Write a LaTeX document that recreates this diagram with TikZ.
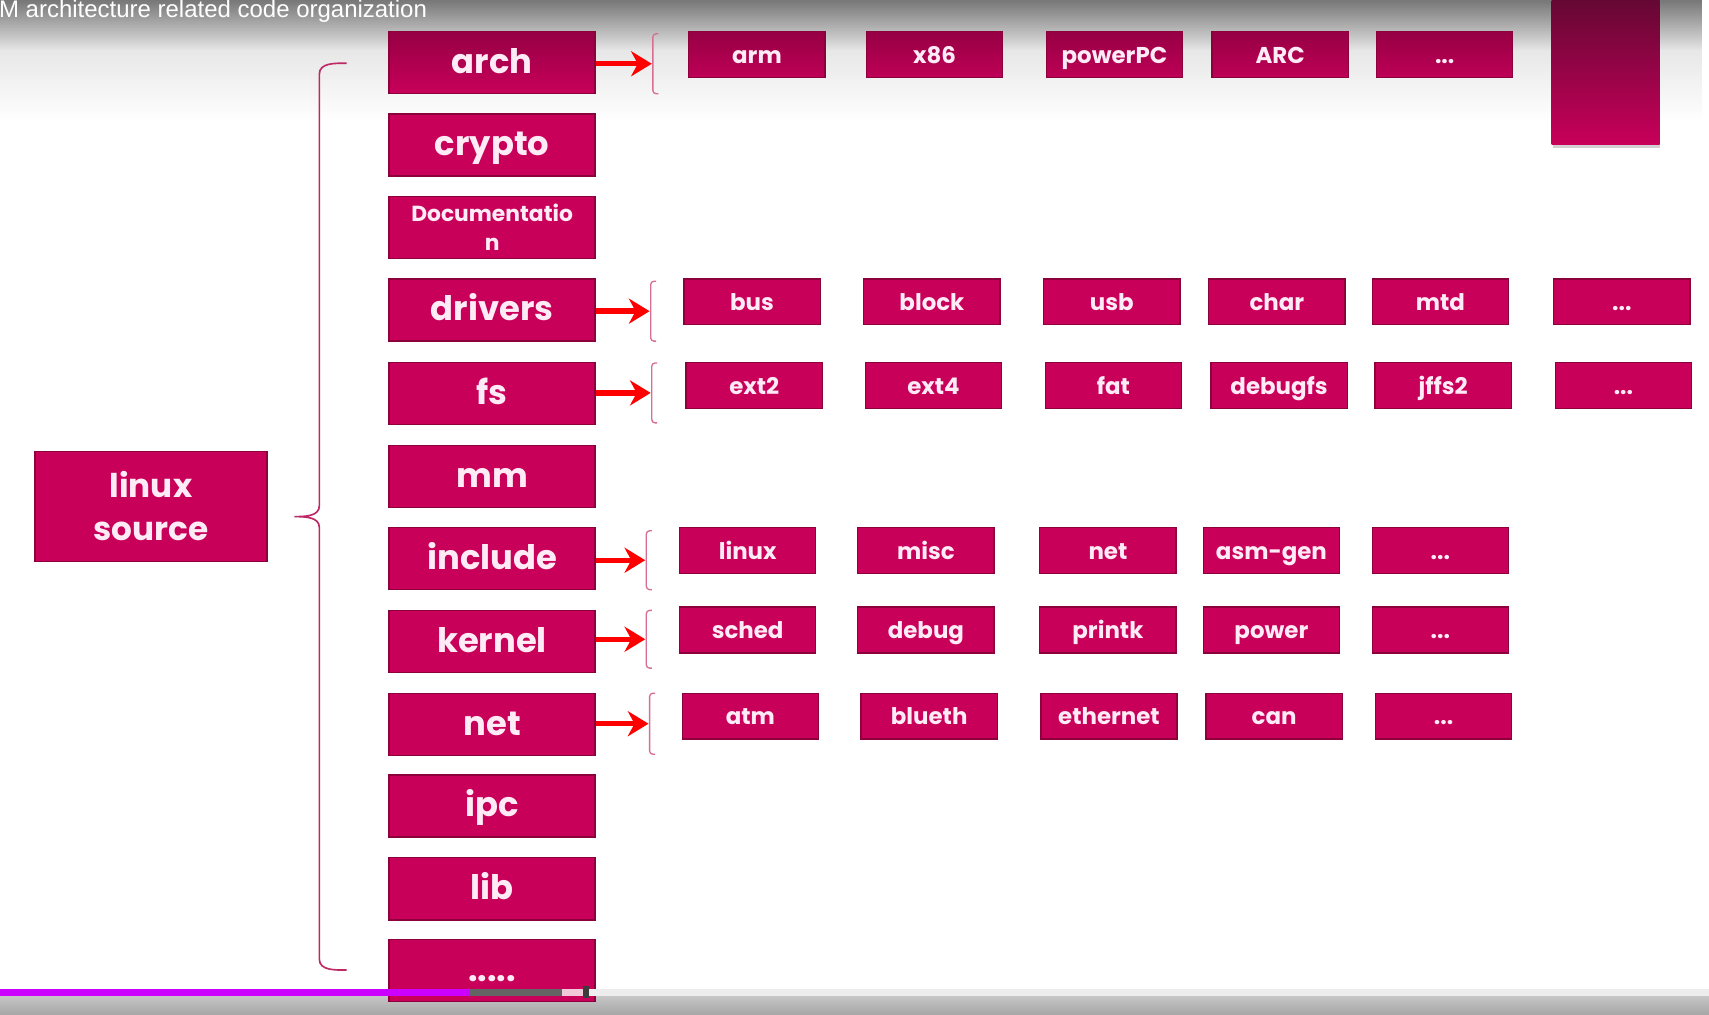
\documentclass[tikz,border=0pt]{standalone}
\usepackage{fontspec}
\setmainfont{Liberation Sans}
\newfontfamily\pop{Poppins}
\usetikzlibrary{arrows.meta,fadings}
\newcommand\mydots{...}
\definecolor{crim}{RGB}{200,0,90}
\definecolor{crimtop}{RGB}{150,0,68}
\definecolor{crimsubbot}{RGB}{190,0,86}
\definecolor{crimdeep}{RGB}{92,8,48}
\definecolor{crimmid}{RGB}{186,0,84}
\definecolor{crimdark}{RGB}{140,0,60}
\definecolor{crimline}{RGB}{190,40,100}
\definecolor{brk}{RGB}{215,110,150}
\definecolor{txt}{RGB}{255,235,245}
\definecolor{barpurple}{RGB}{204,0,255}
\definecolor{bargray}{RGB}{100,100,100}
\definecolor{barpink}{RGB}{240,200,215}
\definecolor{barlight}{RGB}{237,237,237}
\definecolor{barhandle}{RGB}{60,60,60}
\tikzset{
  box/.style={fill=crim, draw=crimdark, line width=1.2pt, inner sep=0pt, text=txt},
  mainbox/.style={box, minimum width=189pt, minimum height=57pt,
    font=\pop\bfseries\fontsize{31}{36}\selectfont, text height=22pt, text depth=2pt},
  docbox/.style={box, minimum width=189pt, minimum height=57pt, align=center,
    font=\pop\bfseries\fontsize{20}{27}\selectfont},
  srcbox/.style={box, minimum width=213pt, minimum height=101pt, align=center,
    font=\pop\bfseries\fontsize{30}{39}\selectfont},
  subbox/.style={box, minimum width=125pt, minimum height=42pt,
    font=\pop\bfseries\fontsize{21}{25}\selectfont, text height=16pt, text depth=0pt},
  toprow/.style={top color=crimtop, bottom color=crimsubbot},
  redarrow/.style={draw=red, line width=5pt, -{Stealth[length=19pt,width=23pt]}},
  smallbracket/.style={draw=brk, line width=1.2pt, rounded corners=3pt},
  bigbrace/.style={draw=crimline, line width=1.5pt},
}
\begin{document}
\begin{tikzpicture}[x=1pt,y=-1pt]
\useasboundingbox (0,0) rectangle (1568,931);
\fill[white] (0,0) rectangle (1568,931);
% top gray video band (background)
\fill[black, fill opacity=0.45, path fading=south] (0,-1) rectangle (1568,46);
\fill[black, fill opacity=0.16, path fading=south] (0,-1) rectangle (1568,112);
% bottom video band
\shade[top color=gray!45, bottom color=gray!70] (0,914) rectangle (1568,931);

% top-right tall box
\fill[black!18] (1425,131) rectangle (1523,136);
\node[box, draw=none, top color=crimdeep, middle color=crimmid, bottom color=crim,
  minimum width=99pt, minimum height=145pt, anchor=south west] (tr) at (1423,133) {};

\node[anchor=base west, inner sep=0pt, text=white, font=\fontsize{22}{26}\selectfont] (title) at (-1,16)
  {M architecture related code organization};

% linux source
\node[srcbox] (src) at (138.5,464.5) {linux\\source};

% main column
\node[mainbox, top color=crimtop, bottom color=crim] (arch) at (451.5,57.5) {arch};
\node[mainbox] (crypto) at (451.5,133) {crypto};
\node[docbox] (doc) at (451.5,208.5) {Documentatio\\n};
\node[mainbox] (drivers) at (451.5,284.5) {drivers};
\node[mainbox] (fs) at (451.5,361) {fs};
\node[mainbox] (mm) at (451.5,437) {mm};
\node[mainbox] (include) at (451.5,512.5) {include};
\node[mainbox] (kernel) at (451.5,588.5) {kernel};
\node[mainbox] (net) at (451.5,664.5) {net};
\node[mainbox] (ipc) at (451.5,739.5) {ipc};
\node[mainbox] (lib) at (451.5,815.5) {lib};
\node[mainbox] (more) at (451.5,890.5) {.....};

% big brace
\coordinate (bt) at (318,58);
\coordinate (btip) at (270,474);
\coordinate (bb) at (318,890);
\draw[bigbrace] (bt) to[out=180,in=90] (293,68) -- (293,464) to[out=-90,in=0] (btip)
  to[out=0,in=90] (293,484) -- (293,880) to[out=-90,in=180] (bb);

% arch row
\foreach \n/\x/\t in {a1/694.5/arm, a2/857.5/x86, a3/1022.5/powerPC, a4/1174.5/ARC, a5/1325.5/\mydots}
  \node[subbox, toprow] (\n) at (\x,50) {\t};
% drivers row
\foreach \n/\x/\t in {d1/690/bus, d2/855/block, d3/1020/usb, d4/1171.5/char, d5/1321.5/mtd, d6/1488/\mydots}
  \node[subbox] (\n) at (\x,277) {\t};
% fs row
\foreach \n/\x/\t in {f1/692/ext2, f2/856.5/ext4, f3/1021.5/fat, f4/1173.5/debugfs, f5/1324/jffs2, f6/1489.5/\mydots}
  \node[subbox] (\n) at (\x,353.5) {\t};
% include row
\foreach \n/\x/\t in {i1/686/linux, i2/849.5/misc, i3/1016.5/net, i4/1166.5/asm-gen, i5/1321.5/\mydots}
  \node[subbox] (\n) at (\x,505) {\t};
% kernel row
\foreach \n/\x/\t in {k1/686/sched, k2/849.5/debug, k3/1016.5/printk, k4/1166.5/power, k5/1321.5/\mydots}
  \node[subbox] (\n) at (\x,578) {\t};
% net row
\foreach \n/\x/\t in {n1/688.5/atm, n2/852.5/blueth, n3/1017.5/ethernet, n4/1169/can, n5/1324.5/\mydots}
  \node[subbox] (\n) at (\x,657) {\t};

% small brackets and arrows
\foreach \m/\xb/\yt/\yb in {arch/599/31/86, drivers/597/258/313, fs/598/333/388,
    include/593/487/541, kernel/593/560/613, net/596/636/692}{
  \draw[smallbracket] (\xb+5,\yt) -- (\xb,\yt) -- (\xb,\yb) -- (\xb+5,\yb);
  \coordinate (e\m) at (\xb-1,{(\yt+\yb)/2});
  \draw[redarrow] (\m.east |- e\m) -- (e\m);
}

% progress bar
\fill[barlight] (0,907.5) rectangle (1568,914);
\fill[barpurple] (0,907.5) rectangle (431,914);
\fill[bargray] (431,907.5) rectangle (516,914);
\fill[barpink] (516,907.5) rectangle (535,914);
\fill[barhandle] (535,905) rectangle (540,916);
\end{tikzpicture}
\end{document}
